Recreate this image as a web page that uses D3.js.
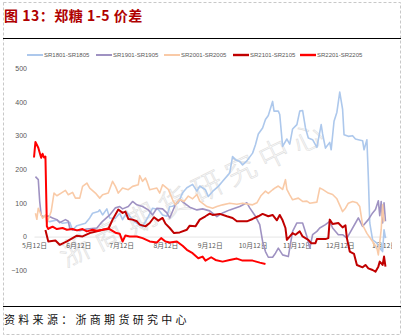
<!DOCTYPE html>
<html>
<head>
<meta charset="utf-8">
<script src="https://cdn.jsdelivr.net/npm/d3@7/dist/d3.min.js"></script>
<style>
  body { margin: 0; background: #fff; }
  svg { display: block; }
</style>
</head>
<body>
<svg id="chart" width="404" height="336"></svg>
<script>
// Spread series: calendar day (M/D) and price difference, May through January
const seriesNames = ["SR1801-SR1805", "SR1901-SR1905", "SR2001-SR2005", "SR2101-SR2105", "SR2201-SR2205"];
const seriesColors = ["#adc8ec", "#9f92c2", "#f9caa7", "#c00000", "#ff0000"];
const seriesWidths = [1.6, 1.6, 1.6, 2, 2];

const sr1801 = [["5/22",45],["5/23",44],["5/28",49],["6/1",39],["6/6",42],["6/8",19],["6/11",32],["6/17",39],["6/20",55],["6/22",69],["6/26",74],["6/27",79],["6/29",64],["7/2",82],["7/4",55],["7/8",54],["7/11",69],["7/13",50],["7/16",72],["7/20",49],["7/23",39],["7/27",29],["7/31",59],["8/3",84],["8/7",80],["8/10",64],["8/13",60],["8/15",89],["8/17",90],["8/21",100],["8/24",130],["8/27",145],["8/31",155],["9/3",135],["9/5",150],["9/9",139],["9/11",119],["9/14",134],["9/18",149],["9/21",164],["9/25",184],["9/26",189],["9/28",238],["9/30",228],["10/3",223],["10/5",213],["10/8",225],["10/12",248],["10/14",273],["10/16",305],["10/19",323],["10/21",348],["10/23",360],["10/26",402],["10/27",373],["10/30",373],["10/31",363],["11/2",268],["11/5",290],["11/7",275],["11/9",320],["11/12",333],["11/14",373],["11/16",375],["11/18",323],["11/20",293],["11/23",288],["11/26",265],["11/29",333],["11/30",305],["12/2",263],["12/5",280],["12/6",258],["12/8",343],["12/10",370],["12/12",430],["12/14",378],["12/15",303],["12/18",298],["12/21",300],["12/23",290],["12/25",288],["12/28",285],["12/29",258],["12/31",288],["1/1",178],["1/2",40],["1/4",-10],["1/7",-20],["1/9",-35],["1/11",-45],["1/12",20],["1/13",-5]];

const sr1901 = [["5/13",178],["5/15",169],["5/16",104],["5/17",64],["5/18",59],["5/22",61],["5/25",55],["5/28",50],["5/30",41],["6/3",50],["6/5",45],["6/6",25],["6/8",20],["6/13",17],["6/18",22],["6/25",25],["6/29",45],["7/4",64],["7/8",85],["7/11",89],["7/13",82],["7/17",89],["7/20",104],["7/23",94],["7/27",89],["7/31",79],["8/3",64],["8/6",84],["8/10",82],["8/13",70],["8/15",55],["8/19",95],["8/22",110],["8/25",100],["8/29",87],["9/3",79],["9/7",82],["9/12",76],["9/17",59],["9/21",70],["9/26",79],["10/3",89],["10/8",100],["10/10",85],["10/14",60],["10/17",35],["10/19",-15],["10/21",-45],["10/23",-62],["10/26",-62],["10/28",-50],["10/30",-35],["11/2",-55],["11/6",-60],["11/9",15],["11/12",40],["11/16",40],["11/19",0],["11/21",-35],["11/23",5],["11/26",15],["11/28",25],["12/2",35],["12/5",45],["12/7",25],["12/11",5],["12/14",5],["12/17",-5],["12/19",10],["12/23",40],["12/25",55],["12/28",30],["1/1",50],["1/4",70],["1/6",80],["1/8",106],["1/9",62],["1/10",104],["1/11",40],["1/12",100],["1/13",45]];

const sr2001 = [["5/13",69],["5/14",51],["5/15",84],["5/18",54],["5/20",64],["5/21",39],["5/24",74],["5/26",129],["5/28",121],["5/31",129],["6/3",137],["6/5",124],["6/8",131],["6/10",114],["6/13",114],["6/15",149],["6/18",159],["6/20",144],["6/24",129],["6/27",114],["6/29",124],["7/3",129],["7/6",164],["7/8",149],["7/10",129],["7/13",144],["7/17",139],["7/20",149],["7/24",154],["7/25",181],["7/27",164],["7/29",174],["7/30",164],["8/1",139],["8/6",144],["8/8",129],["8/10",154],["8/14",140],["8/17",109],["8/19",94],["8/22",110],["8/25",104],["8/28",120],["8/31",112],["9/3",125],["9/5",105],["9/10",89],["9/14",84],["9/17",89],["9/21",94],["9/26",99],["10/1",96],["10/5",99],["10/12",94],["10/15",100],["10/18",122],["10/21",135],["10/23",128],["10/26",139],["10/28",145],["10/30",150],["11/2",140],["11/4",169],["11/5",140],["11/7",124],["11/9",109],["11/13",114],["11/16",104],["11/19",105],["11/21",99],["11/26",102],["11/28",144],["11/30",140],["12/4",129],["12/7",125],["12/10",112],["12/14",74],["12/16",84],["12/18",99],["12/21",104],["12/24",100],["12/26",89],["12/28",34],["12/31",9],["1/4",-15],["1/7",-35],["1/8",-55],["1/10",20],["1/11",94],["1/12",44]];

const sr2101 = [["5/20",19],["5/22",-15],["5/27",-12],["5/30",-25],["6/4",-15],["6/8",-5],["6/11",2],["6/15",0],["6/20",10],["6/25",15],["6/29",20],["7/3",22],["7/6",50],["7/10",80],["7/13",70],["7/15",74],["7/17",52],["7/20",50],["7/23",45],["7/25",35],["7/29",30],["8/1",40],["8/4",57],["8/7",47],["8/10",55],["8/12",38],["8/15",25],["8/18",10],["8/22",12],["8/27",20],["8/29",32],["9/2",30],["9/5",50],["9/9",60],["9/12",68],["9/14",64],["9/19",67],["9/24",60],["9/28",55],["10/1",45],["10/8",45],["10/12",52],["10/16",60],["10/19",67],["10/23",60],["10/26",64],["10/29",48],["10/31",64],["11/2",48],["11/4",25],["11/5",-10],["11/9",10],["11/11",5],["11/14",15],["11/16",0],["11/20",-10],["11/22",-20],["11/25",-20],["11/26",-8],["12/2",-8],["12/4",-5],["12/5",50],["12/7",37],["12/11",40],["12/14",27],["12/16",33],["12/17",-5],["12/19",-45],["12/22",-52],["12/24",-85],["12/28",-92],["12/30",-85],["1/1",-95],["1/4",-100],["1/6",-105],["1/8",-90],["1/9",-75],["1/11",-85],["1/12",-60],["1/13",-90]];

const sr2201 = [["5/12",235],["5/13",281],["5/15",264],["5/16",249],["5/17",234],["5/18",246],["5/19",235],["5/20",238],["5/21",30],["5/22",22],["5/23",25],["5/25",29],["5/28",22],["6/1",25],["6/4",20],["6/8",22],["6/11",18],["6/15",22],["6/18",15],["6/22",20],["6/25",17],["6/29",20],["7/3",24],["7/8",11],["7/11",8],["7/13",-15],["7/15",3],["7/18",0],["7/23",0],["7/27",-5],["8/1",-15],["8/6",-18],["8/9",-5],["8/12",-15],["8/15",-18],["8/20",-15],["8/24",-28],["8/27",-40],["8/31",-50],["9/4",-65],["9/7",-60],["9/9",-72],["9/13",-62],["9/16",-70],["9/21",-75],["9/26",-70],["10/1",-66],["10/5",-72],["10/12",-72],["10/17",-78],["10/21",-82]];

const allSeries = [sr1801, sr1901, sr2001, sr2101, sr2201];
const xTickDates = ["5/12","6/12","7/12","8/12","9/12","10/12","11/12","12/12","1/12"];
const yTicks = [-100, 0, 100, 200, 300, 400, 500];

// May–December fall in the first year, January in the next
function parseDay(s) {
  const [m, d] = s.split("/").map(Number);
  return new Date(m >= 5 ? 2000 : 2001, m - 1, d);
}

const svg = d3.select("#chart");
const cjk = "'Noto Sans CJK SC', 'Microsoft YaHei', sans-serif";

// outer dashed frame
svg.append("rect").attr("x", 3.5).attr("y", 2.5).attr("width", 397).attr("height", 332)
  .attr("fill", "none").attr("stroke", "#c8c8c8").attr("stroke-dasharray", "3,2");

// title and rules
svg.append("text").attr("x", 4).attr("y", 21)
  .attr("font-family", cjk).attr("font-weight", 700).attr("font-size", 14)
  .attr("letter-spacing", 0.5)
  .attr("fill", "#b00000").attr("xml:space", "preserve").text("图 13：郑糖 1-5 价差");
svg.append("line").attr("x1", 3).attr("x2", 401).attr("y1", 38.5).attr("y2", 38.5)
  .attr("stroke", "#000").attr("stroke-width", 1.2);
svg.append("line").attr("x1", 3).attr("x2", 401).attr("y1", 306.5).attr("y2", 306.5)
  .attr("stroke", "#000").attr("stroke-width", 1);
svg.append("text").attr("x", 4).attr("y", 324)
  .attr("font-family", cjk).attr("font-size", 11).attr("letter-spacing", 3.3)
  .attr("fill", "#111").text("资料来源：浙商期货研究中心");

// scales
const x = d3.scaleTime().domain([parseDay("5/12"), parseDay("1/14")]).range([34, 386.9]);
const y = d3.scaleLinear().domain([-100, 500]).range([270, 68.5]);

// faint watermark behind the lines
svg.append("text")
  .attr("transform", "translate(193,191) rotate(-26)")
  .attr("text-anchor", "middle").attr("dominant-baseline", "central")
  .attr("font-family", cjk).attr("font-weight", 300).attr("font-size", 30)
  .attr("letter-spacing", 7)
  .attr("fill", "none").attr("stroke", "#e0e0e0").attr("stroke-width", 0.7)
  .text("浙商期货研究中心");

// y axis labels
const yAxis = svg.append("g").attr("transform", "translate(29,0)")
  .call(d3.axisLeft(y).tickValues(yTicks).tickSize(0).tickPadding(2));
yAxis.select(".domain").remove();
yAxis.selectAll("text").attr("font-family", "'Liberation Sans', Arial, sans-serif")
  .attr("font-size", 7).attr("fill", "#595959");

// x axis on the zero line
svg.append("clipPath").attr("id", "xclip").append("rect")
  .attr("x", 0).attr("y", 0).attr("width", 392).attr("height", 336);
const xAxis = svg.append("g").attr("transform", `translate(0,${y(0)})`)
  .attr("clip-path", "url(#xclip)")
  .call(d3.axisBottom(x).tickValues(xTickDates.map(parseDay)).tickSize(0).tickPadding(7)
    .tickFormat(d => `${d.getMonth() + 1}月${d.getDate()}日`));
xAxis.select(".domain").attr("stroke", "#d9d9d9").attr("stroke-width", 1);
xAxis.selectAll("text").attr("font-family", cjk).attr("font-size", 6.8).attr("fill", "#595959");

// series lines
const line = d3.line().x(d => x(parseDay(d[0]))).y(d => y(d[1]));
svg.append("g").selectAll("path").data(allSeries).join("path")
  .attr("d", line)
  .attr("fill", "none")
  .attr("stroke", (d, i) => seriesColors[i])
  .attr("stroke-width", (d, i) => seriesWidths[i])
  .attr("stroke-linejoin", "round");

// legend
const legendX = [27, 96, 164, 233, 300];
const legend = svg.append("g").selectAll("g").data(seriesNames).join("g")
  .attr("transform", (d, i) => `translate(${legendX[i]},55)`);
legend.append("line").attr("x1", 0).attr("x2", 16)
  .attr("stroke", (d, i) => seriesColors[i]).attr("stroke-width", (d, i) => seriesWidths[i] + 0.4);
legend.append("text").attr("x", 17).attr("dy", "0.35em")
  .attr("font-family", "'Liberation Sans', Arial, sans-serif").attr("font-size", 6)
  .attr("fill", "#595959").text(d => d);
</script>
</body>
</html>
